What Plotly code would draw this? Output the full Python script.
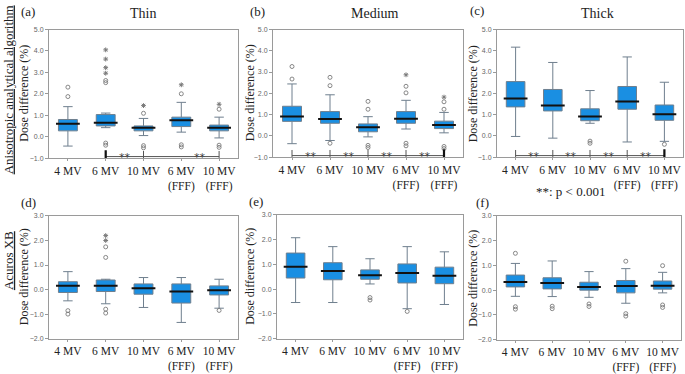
import plotly.graph_objects as go

W, H = 685, 374

# ---------------- data ----------------
categories = ["4 MV", "6 MV", "10 MV", "6 MV<br>(FFF)", "10 MV<br>(FFF)"]
panel_titles = ["Thin", "Medium", "Thick", "", "", ""]
panel_letters = ["(a)", "(b)", "(c)", "(d)", "(e)", "(f)"]

# (a) AAA Thin
a_q1 = [0.27, 0.50, 0.27, 0.47, 0.27]
a_med = [0.60, 0.65, 0.42, 0.76, 0.42]
a_q3 = [0.80, 1.03, 0.50, 0.91, 0.54]
a_lo = [-0.44, 0.42, 0.05, 0.21, -0.06]
a_hi = [1.40, 1.10, 0.85, 1.60, 0.91]
a_circ_x = [0, 0, 1, 1, 1, 1, 2, 2, 2, 3, 3, 3, 4, 4, 4]
a_circ_y = [1.87, 2.31, 2.62, 2.52, -0.30, -0.40, 1.09, -0.42, -0.52, 2.00, -0.38, -0.48, 1.28, -0.40, -0.50]
a_star_x = [1, 1, 1, 1, 2, 3, 4]
a_star_y = [4.05, 3.62, 3.22, 2.96, 1.45, 2.42, 1.51]

# (b) AAA Medium
b_q1 = [0.68, 0.59, 0.19, 0.59, 0.34]
b_med = [0.91, 0.79, 0.40, 0.80, 0.51]
b_q3 = [1.39, 1.14, 0.56, 1.14, 0.69]
b_lo = [-0.37, -0.22, -0.05, 0.32, 0.14]
b_hi = [2.44, 1.93, 0.90, 1.67, 1.10]
b_circ_x = [0, 0, 1, 1, 1, 2, 2, 2, 2, 3, 3, 3, 3, 4, 4, 4, 4]
b_circ_y = [3.26, 2.67, 2.75, 2.36, -0.35, 1.62, 1.25, -0.45, -0.55, 2.33, 2.02, -0.35, -0.47, 1.60, 1.25, -0.50, -0.60]
b_star_x = [3, 4]
b_star_y = [2.87, 1.82]

# (c) AAA Thick
c_q1 = [1.36, 1.17, 0.71, 1.25, 0.73]
c_med = [1.75, 1.42, 0.91, 1.61, 1.02]
c_q3 = [2.55, 2.18, 1.27, 2.32, 1.45]
c_lo = [-0.03, -0.11, 0.59, -0.29, -0.26]
c_hi = [4.17, 3.45, 2.13, 3.71, 2.52]
c_circ_x = [2, 2, 4]
c_circ_y = [-0.25, -0.35, -0.40]
c_star_x = []
c_star_y = []

# (d) Acuros XB Thin
d_q1 = [-0.12, -0.08, -0.19, -0.55, -0.22]
d_med = [0.16, 0.16, 0.05, -0.08, -0.03]
d_q3 = [0.32, 0.39, 0.23, 0.23, 0.15]
d_lo = [-0.46, -0.58, -0.73, -1.34, -0.76]
d_hi = [0.73, 0.42, 0.49, 0.49, 0.42]
d_circ_x = [0, 0, 1, 1, 1, 1, 4]
d_circ_y = [-0.86, -1.00, 1.74, 1.31, -0.80, -0.96, -0.85]
d_star_x = [1, 1]
d_star_y = [2.20, 2.00]

# (e) Acuros XB Medium
e_q1 = [0.45, 0.38, 0.40, 0.25, 0.22]
e_med = [0.91, 0.73, 0.56, 0.65, 0.54]
e_q3 = [1.46, 1.07, 0.78, 1.02, 0.89]
e_lo = [-0.54, -0.54, 0.21, -0.79, -0.62]
e_hi = [2.08, 1.72, 1.23, 1.72, 1.51]
e_circ_x = [2, 2, 3]
e_circ_y = [-0.34, -0.44, -0.90]
e_star_x = []
e_star_y = []

# (f) Acuros XB Thick
f_q1 = [0.13, 0.05, 0.00, -0.11, 0.04]
f_med = [0.33, 0.29, 0.13, 0.17, 0.18]
f_q3 = [0.61, 0.50, 0.32, 0.39, 0.37]
f_lo = [-0.25, -0.26, -0.29, -0.53, -0.11]
f_hi = [1.08, 1.18, 0.75, 0.87, 0.72]
f_circ_x = [0, 0, 0, 1, 1, 2, 2, 3, 3, 3, 4, 4, 4]
f_circ_y = [1.49, -0.67, -0.77, -0.65, -0.75, -0.56, -0.66, 1.17, -0.95, -1.05, 0.99, -0.60, -0.70]
f_star_x = []
f_star_y = []

# significance brackets (category indices of bracket ticks, positions of "**")
a_sig_ticks = [1, 2, 4]
a_sig_stars = [1.5, 3.5]
b_sig_ticks = [0, 1, 2, 3, 4]
b_sig_stars = [0.5, 1.5, 2.5, 3.5]
c_sig_ticks = [0, 1, 2, 3, 4]
c_sig_stars = [0.5, 1.5, 2.5, 3.5]
sig_level = -0.93

y_ranges = [[-1, 5], [-1, 5], [-1, 5], [-2, 3], [-2, 3], [-2, 3]]
y_ticks = [[-1, 0, 1, 2, 3, 4, 5]] * 3 + [[-2, -1, 0, 1, 2, 3]] * 3

panels = [
    (a_q1, a_med, a_q3, a_lo, a_hi, a_circ_x, a_circ_y, a_star_x, a_star_y, a_sig_ticks, a_sig_stars),
    (b_q1, b_med, b_q3, b_lo, b_hi, b_circ_x, b_circ_y, b_star_x, b_star_y, b_sig_ticks, b_sig_stars),
    (c_q1, c_med, c_q3, c_lo, c_hi, c_circ_x, c_circ_y, c_star_x, c_star_y, c_sig_ticks, c_sig_stars),
    (d_q1, d_med, d_q3, d_lo, d_hi, d_circ_x, d_circ_y, d_star_x, d_star_y, None, None),
    (e_q1, e_med, e_q3, e_lo, e_hi, e_circ_x, e_circ_y, e_star_x, e_star_y, None, None),
    (f_q1, f_med, f_q3, f_lo, f_hi, f_circ_x, f_circ_y, f_star_x, f_star_y, None, None),
]

# ---------------- layout geometry (pixels) ----------------
px_x = [(49, 238), (273, 463), (497, 683), (49, 238), (277, 463), (497, 681)]
px_y = [(26, 157), (26, 156), (26, 156), (216, 341), (215, 341), (216, 342)]
ytitle_x = [24, 250, 473, 24, 250, 473]
letter_pos = [(28, 8), (257, 8), (477, 7), (28, 202), (256, 201), (482, 202)]
title_pos = [(143, 10), (375, 10), (597, 10)]


def fx(p):
    return p / W


def fy(p):
    return 1 - p / H


SERIF = "Liberation Serif"
BOX_FILL = "#1a8fe2"
BOX_LINE = "#6f7f8e"
OUT_COL = "#7a7a7a"
FRAME = "#9a9a9a"


def paper_text(x, y, text, size, angle=0, color="#222222"):
    return dict(
        x=fx(x), y=fy(y), xref="paper", yref="paper", text=text, textangle=angle,
        showarrow=False, xanchor="center", yanchor="middle",
        font=dict(family=SERIF, size=size, color=color),
    )


fig = go.Figure()
layout = dict(
    width=W, height=H, margin=dict(l=0, r=0, t=0, b=0),
    paper_bgcolor="white", plot_bgcolor="white", showlegend=False,
    annotations=[], shapes=[],
)

for i, (q1, med, q3, lo, hi, cx, cy, sx, sy, sig_t, sig_s) in enumerate(panels):
    n = i + 1
    xa = "x" if n == 1 else f"x{n}"
    ya = "y" if n == 1 else f"y{n}"
    fig.add_trace(go.Box(
        x=categories, q1=q1, median=med, q3=q3, lowerfence=lo, upperfence=hi,
        boxpoints=False, width=0.5, whiskerwidth=0.5,
        fillcolor=BOX_FILL, line=dict(color=BOX_LINE, width=1),
        xaxis=xa, yaxis=ya, hoverinfo="skip",
    ))
    # median line in black
    fig.add_trace(go.Scatter(
        x=categories, y=med, mode="markers", xaxis=xa, yaxis=ya,
        marker=dict(symbol="line-ew-open", size=17, color="#111111",
                    line=dict(color="#111111", width=2)),
        hoverinfo="skip",
    ))
    if cx:
        fig.add_trace(go.Scatter(
            x=[categories[k] for k in cx], y=cy, mode="markers", xaxis=xa, yaxis=ya,
            marker=dict(symbol="circle-open", size=4, color=OUT_COL, line=dict(width=0.9, color=OUT_COL)),
            hoverinfo="skip",
        ))
    if sx:
        fig.add_trace(go.Scatter(
            x=[categories[k] for k in sx], y=sy, mode="markers", xaxis=xa, yaxis=ya,
            marker=dict(symbol="asterisk-open", size=4, color=OUT_COL, line=dict(width=1, color=OUT_COL)),
            hoverinfo="skip",
        ))
    if sig_t:
        xs = [categories[k] for k in sig_t]
        fig.add_trace(go.Scatter(
            x=xs, y=[sig_level] * len(xs), mode="lines+markers", xaxis=xa, yaxis=ya,
            line=dict(color="#555555", width=1),
            marker=dict(symbol="line-ns-open", size=8, color="#555555", line=dict(color="#555555", width=1)),
            hoverinfo="skip",
        ))
        # thick end tick
        end_x = xs[0] if i == 0 else xs[-1]
        fig.add_trace(go.Scatter(
            x=[end_x], y=[sig_level], mode="markers", xaxis=xa, yaxis=ya,
            marker=dict(symbol="line-ns-open", size=9, color="#111111", line=dict(color="#111111", width=2.2)),
            hoverinfo="skip",
        ))
        for s in sig_s:
            layout["annotations"].append(dict(
                x=s, y=sig_level, xref=xa, yref=ya, text="**", showarrow=False,
                xanchor="center", yanchor="middle", yshift=-1,
                font=dict(family="DejaVu Sans", size=11, color="#444444"),
            ))

    x0, x1 = px_x[i]
    y0, y1 = px_y[i]
    xkey = "xaxis" if n == 1 else f"xaxis{n}"
    ykey = "yaxis" if n == 1 else f"yaxis{n}"
    layout[xkey] = dict(
        domain=[fx(x0), fx(x1)], anchor=ya, type="category",
        categoryorder="array", categoryarray=categories, range=[-0.5, 4.5],
        showline=True, mirror=True, linecolor=FRAME, linewidth=1,
        ticks="outside", ticklen=2, tickcolor=FRAME, showgrid=False, zeroline=False,
        tickfont=dict(family=SERIF, size=11.5, color="#222222"), fixedrange=True,
    )
    layout[ykey] = dict(
        domain=[fy(y1), fy(y0)], anchor=xa, range=y_ranges[i],
        tickvals=y_ticks[i], tickformat=".1f",
        showline=True, mirror=True, linecolor=FRAME, linewidth=1,
        ticks="outside", ticklen=3, tickcolor=FRAME, showgrid=False, zeroline=False,
        tickfont=dict(family="Liberation Sans", size=7, color="#666666"), fixedrange=True,
    )
    layout["annotations"].append(paper_text(ytitle_x[i], (y0 + y1) / 2, "Dose difference (%)", 12, -90))
    lx, ly = letter_pos[i]
    layout["annotations"].append(paper_text(lx, ly, panel_letters[i], 13))
    if i < 3:
        tx, ty = title_pos[i]
        layout["annotations"].append(paper_text(tx, ty, panel_titles[i], 14))

# row labels
layout["annotations"].append(paper_text(8, 88, "<u>Anisotropic analytical algorithm</u>", 13, -90))
layout["annotations"].append(paper_text(8, 262, "<u>Acuros XB</u>", 13, -90))
layout["annotations"].append(paper_text(570, 191, "**: p < 0.001", 13))

fig.update_layout(**layout)
fig.write_html(
    "out.html",
    config={"displayModeBar": False, "staticPlot": True},
    post_script="document.body.style.margin='0';document.body.style.overflow='hidden';",
)
